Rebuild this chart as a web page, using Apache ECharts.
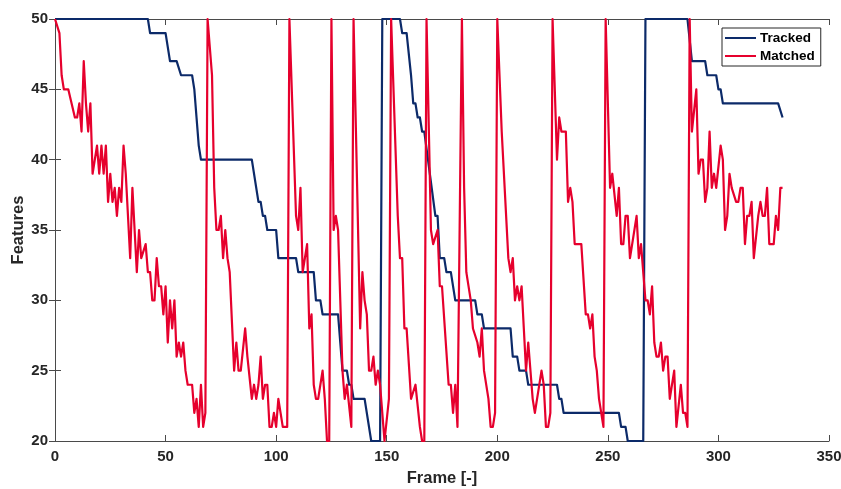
<!DOCTYPE html>
<html>
<head>
<meta charset="utf-8">
<script src="https://cdn.jsdelivr.net/npm/echarts@6/dist/echarts.min.js"></script>
<style>
html,body{margin:0;padding:0;background:#fff;}
#chart{width:841px;height:489px;}
</style>
</head>
<body>
<div id="chart"></div>
<script>
// ---- Data ----
const seriesNames = ["Tracked", "Matched"];

const trackedFrames = [0,42,43,50,52,55,57,62,63,64,65,66,89,91,92,93,94,95,96,100,101,109,110,117,118,120,121,128,129,130,132,133,134,135,140,143,147,148,156,157,159,161,162,163,164,165,166,167,172,173,174,176,177,179,181,190,191,193,194,206,207,209,210,213,214,227,228,229,230,255,256,258,259,266,267,286,288,294,295,299,300,301,302,327,329];
const trackedValues = [50,50,49,49,47,47,46,46,45,43,41,40,40,38,37,37,36,36,35,35,33,33,32,32,30,30,29,29,27,25,25,24,24,23,23,20,20,50,50,49,49,46,44,44,43,43,42,42,36,36,33,33,32,32,30,30,29,29,28,28,26,26,25,25,24,24,23,23,22,22,21,21,20,20,50,50,47,47,46,46,45,45,44,44,43];

const matchedFrames = [0,2,3,4,6,9,10,11,12,13,14,15,16,17,19,20,21,22,23,24,25,26,27,28,29,30,31,32,34,35,37,38,39,41,42,43,44,45,46,47,48,49,50,51,52,53,54,55,56,57,58,59,60,62,63,64,65,66,67,68,69,71,72,73,74,75,76,77,78,79,81,82,83,84,86,87,89,90,91,92,93,94,95,96,97,98,99,100,101,102,103,105,106,109,110,111,112,113,114,115,116,117,118,119,121,122,123,124,125,126,127,128,130,131,132,134,135,138,139,140,141,142,143,144,145,146,147,149,151,152,155,156,157,158,159,161,163,165,166,167,168,170,171,173,174,175,178,179,180,181,182,184,185,186,188,189,191,192,193,194,196,197,198,199,200,202,205,206,207,208,209,210,211,212,213,214,216,217,220,221,222,223,224,225,227,228,229,231,232,233,234,235,238,240,241,242,243,244,245,246,248,249,251,252,254,255,256,257,258,259,260,261,263,264,265,267,268,269,270,271,272,273,274,275,276,277,278,280,281,283,284,285,286,287,288,290,291,292,293,294,295,296,297,298,299,301,302,303,304,305,306,308,309,310,311,312,313,314,315,316,318,319,320,321,322,323,325,326,327,328,329];
const matchedValues = [50,49,46,45,45,43,43,44,42,47,44,42,44,39,41,39,41,39,41,37,39,37,38,36,38,37,41,39,33,38,32,35,33,34,32,32,30,30,33,31,31,29,31,27,30,28,30,26,27,26,27,25,24,24,22,23,21,24,21,22,50,46,38,35,35,36,33,35,33,32,25,27,25,25,28,26,23,24,23,24,26,23,24,24,21,21,22,21,23,22,21,21,50,36,35,38,32,33,34,28,29,24,23,23,25,23,20,20,50,35,36,35,25,23,24,21,50,28,32,30,29,25,25,26,24,25,24,20,23,50,36,33,33,28,28,23,24,21,20,20,50,35,34,35,31,31,24,24,22,24,21,50,38,32,30,28,27,26,28,25,23,21,21,22,50,42,33,32,33,30,31,30,31,28,25,27,23,22,25,24,21,21,22,50,40,43,42,42,37,38,37,34,34,29,29,28,29,26,25,23,21,50,38,39,36,38,34,34,36,36,33,34,36,33,34,30,30,29,31,27,26,26,27,25,26,26,23,25,21,24,22,22,21,50,42,45,39,40,40,37,38,42,38,39,38,41,40,35,36,39,38,37,37,38,38,34,36,36,37,33,36,37,36,36,38,34,34,36,35,38,38];

const xMin = 0, xMax = 350, xStep = 50;
const yMin = 20, yMax = 50, yStep = 5;
const xTitle = "Frame [-]";
const yTitle = "Features";

// ---- Build ----
const pairs = (xs, ys) => xs.map((x, i) => [x, ys[i]]);
const FONT = '"Liberation Sans", Arial, Helvetica, sans-serif';
const AXIS_COLOR = '#262626';
const LINE_COLOR = '#4a4a4a';
const colors = ['#0c2a69', '#e6002d'];

const chart = echarts.init(document.getElementById('chart'), null, {renderer: 'canvas'});
const baseX = {
  type: 'value', min: xMin, max: xMax, interval: xStep,
  splitLine: {show: false},
  axisLine: {show: true, lineStyle: {color: LINE_COLOR, width: 1}},
  axisTick: {show: true, inside: true, length: 6, lineStyle: {color: LINE_COLOR}}
};
const baseY = {
  type: 'value', min: yMin, max: yMax, interval: yStep,
  splitLine: {show: false},
  axisLine: {show: true, lineStyle: {color: LINE_COLOR, width: 1}},
  axisTick: {show: true, inside: true, length: 6, lineStyle: {color: LINE_COLOR}}
};

chart.setOption({
  animation: false,
  backgroundColor: '#ffffff',
  grid: {left: 55, right: 12, top: 19, bottom: 48, containLabel: false, outerBoundsMode: 'none'},
  legend: {
    orient: 'vertical', left: 722, top: 28,
    data: seriesNames.map(n => ({name: n, icon: 'rect'})),
    itemWidth: 31, itemHeight: 2, itemGap: 2,
    padding: [2, 6, 2, 3],
    borderColor: '#262626', borderWidth: 1, backgroundColor: '#fff',
    textStyle: {fontFamily: FONT, fontWeight: 'bold', fontSize: 13.5, color: '#000', lineHeight: 16, padding: [0,0,0,-1]}
  },
  xAxis: [
    Object.assign({}, baseX, {
      position: 'bottom',
      name: xTitle, nameLocation: 'middle', nameGap: 29, nameMoveOverlap: false,
      nameTextStyle: {fontFamily: FONT, fontWeight: 'bold', fontSize: 16.5, color: AXIS_COLOR},
      axisLabel: {show: true, margin: 8, fontFamily: FONT, fontWeight: 'bold', fontSize: 15, color: AXIS_COLOR}
    }),
    Object.assign({}, baseX, {position: 'top', axisLabel: {show: false}})
  ],
  yAxis: [
    Object.assign({}, baseY, {
      position: 'left',
      name: yTitle, nameLocation: 'middle', nameGap: 28, nameRotate: 90, nameMoveOverlap: false,
      nameTextStyle: {fontFamily: FONT, fontWeight: 'bold', fontSize: 16.5, color: AXIS_COLOR},
      axisLabel: {show: true, margin: 7, fontFamily: FONT, fontWeight: 'bold', fontSize: 15, color: AXIS_COLOR}
    }),
    Object.assign({}, baseY, {position: 'right', axisLabel: {show: false}})
  ],
  series: [
    {
      name: seriesNames[0], type: 'line', xAxisIndex: 0, yAxisIndex: 0,
      data: pairs(trackedFrames, trackedValues),
      showSymbol: false, symbol: 'none', clip: false,
      lineStyle: {color: colors[0], width: 2.2, join: 'round'},
      itemStyle: {color: colors[0]}, z: 3
    },
    {
      name: seriesNames[1], type: 'line', xAxisIndex: 0, yAxisIndex: 0,
      data: pairs(matchedFrames, matchedValues),
      showSymbol: false, symbol: 'none', clip: false,
      lineStyle: {color: colors[1], width: 2.2, join: 'round'},
      itemStyle: {color: colors[1]}, z: 4
    }
  ]
});
</script>
</body>
</html>
